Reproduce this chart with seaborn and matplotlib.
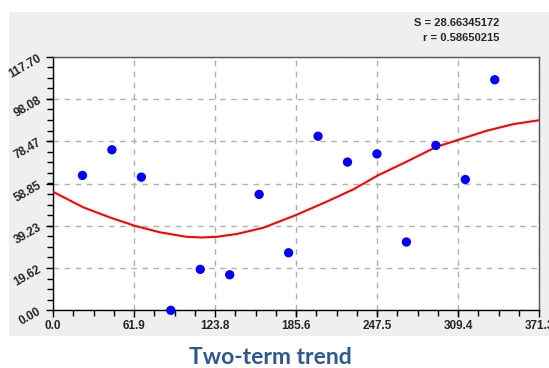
import matplotlib
matplotlib.use("Agg")
import matplotlib.pyplot as plt
from matplotlib.ticker import FixedLocator, AutoMinorLocator
import seaborn as sns
import pandas as pd

# data points
x_pts = [22.5, 45.0, 67.5, 90.0, 112.5, 135.0, 157.5, 180.0, 202.5, 225.0, 247.5, 270.0, 292.5, 315.0, 337.5]
y_pts = [62.6, 74.5, 61.8, 0.0, 19.0, 16.5, 53.8, 26.7, 80.8, 68.8, 72.6, 31.7, 76.5, 60.7, 107.0]

# fitted trend curve
x_fit = [0.0, 23.1, 43.5, 62.6, 81.7, 102.1, 113.5, 125.0, 140.3, 160.6, 185.6, 209.0, 229.4,
         248.5, 267.5, 293.1, 309.1, 331.2, 351.6, 371.3]
y_fit = [55.0, 47.8, 43.1, 39.2, 36.2, 34.1, 33.8, 34.1, 35.4, 38.3, 44.2, 50.4, 56.1,
         62.7, 68.2, 75.9, 79.0, 83.3, 86.4, 88.2]

x_ticks = [0.0, 61.9, 123.8, 185.6, 247.5, 309.4, 371.3]
x_tick_labels = ["0.0", "61.9", "123.8", "185.6", "247.5", "309.4", "371.3"]
y_ticks = [0.0, 19.62, 39.23, 58.85, 78.47, 98.08, 117.70]
y_tick_labels = ["0.00", "19.62", "39.23", "58.85", "78.47", "98.08", "117.70"]

stats_text = ["S = 28.66345172", "r = 0.58650215"]
title = "Two-term trend"

sns.set_style("ticks")
plt.rcParams['font.family'] = ['Liberation Sans', 'DejaVu Sans']

fig = plt.figure(figsize=(5.49, 3.68), dpi=100)
fig.patch.set_facecolor("white")
W, H = 549, 368
bg = fig.add_axes([9 / W, (H - 336) / H, 1 - 9 / W, (336 - 12) / H], zorder=-10)
bg.set_facecolor("#efefef")
bg.set_xticks([])
bg.set_yticks([])
for s in bg.spines.values():
    s.set_visible(False)

ax = fig.add_axes([53 / W, (H - 310.3) / H, (539 - 53) / W, (310.3 - 56.7) / H], zorder=1)
ax.set_facecolor("white")

df_pts = pd.DataFrame({"x": x_pts, "y": y_pts})
df_fit = pd.DataFrame({"x": x_fit, "y": y_fit})

sns.lineplot(data=df_fit, x="x", y="y", ax=ax, color="red", linewidth=1.5, zorder=3)
sns.scatterplot(data=df_pts, x="x", y="y", ax=ax, color="#0000ff", s=45,
                edgecolor="none", zorder=4, clip_on=False)

ax.set_xlim(0, 371.3)
ax.set_ylim(0, 117.7)
ax.xaxis.set_major_locator(FixedLocator(x_ticks))
ax.yaxis.set_major_locator(FixedLocator(y_ticks))
ax.set_xticklabels(x_tick_labels, fontsize=8.5, fontweight="bold")
ax.set_yticklabels(y_tick_labels, fontsize=8.5, fontweight="bold", rotation=30)
ax.xaxis.set_minor_locator(AutoMinorLocator(4))
ax.yaxis.set_minor_locator(AutoMinorLocator(4))
ax.tick_params(axis="both", which="major", length=5, width=1, color="black", pad=2)
ax.tick_params(axis="both", which="minor", length=4, width=1, color="black")
ax.set_xlabel("")
ax.set_ylabel("")
ax.grid(True, which="major", linestyle=(0, (4, 4)), color="#b0b0b0", linewidth=1)

for side in ["left", "bottom"]:
    ax.spines[side].set_color("black")
    ax.spines[side].set_linewidth(1)
for side in ["top", "right"]:
    ax.spines[side].set_visible(True)
    ax.spines[side].set_color("#555555")
    ax.spines[side].set_linewidth(1)

fig.text(499 / W, 1 - 22.7 / H, stats_text[0], ha="right", va="center",
         fontsize=8, fontweight="bold")
fig.text(499 / W, 1 - 37.7 / H, stats_text[1], ha="right", va="center",
         fontsize=8, fontweight="bold")

fig.text(270 / W, 1 - 357 / H, title, ha="center", va="center", fontsize=16.5,
         fontweight="bold", color="#2e5a8a", family=["Lato", "DejaVu Sans"])

fig.savefig("out.png", dpi=100)
